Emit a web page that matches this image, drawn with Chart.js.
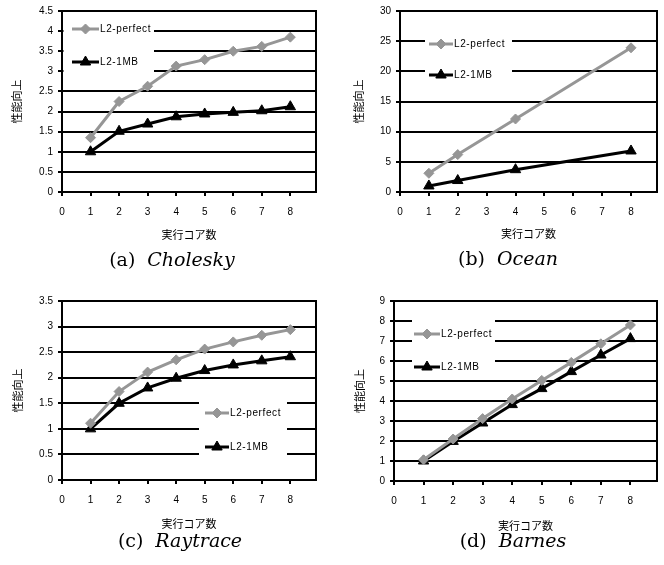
<!DOCTYPE html>
<html>
<head>
<meta charset="utf-8">
<script src="https://cdn.jsdelivr.net/npm/chart.js@4.4.1/dist/chart.umd.min.js"></script>
<style>
  body { margin: 0; background: #fff; width: 664px; height: 565px; position: relative; overflow: hidden; }
  canvas { position: absolute; }
  .cap { position: absolute; width: 332px; text-align: center; font-family: "DejaVu Serif", serif; font-size: 19px; line-height: 22px; color: #000; }
  .cap i { margin-left: 12px; }
</style>
</head>
<body>
<canvas id="cholesky" width="332" height="250" style="left:0;top:0"></canvas>
<canvas id="ocean" width="332" height="250" style="left:332px;top:0"></canvas>
<canvas id="raytrace" width="332" height="250" style="left:0;top:290px"></canvas>
<canvas id="barnes" width="332" height="250" style="left:332px;top:290px"></canvas>
<div class="cap" style="left:6px;top:248px">(a)<i>Cholesky</i></div>
<div class="cap" style="left:342px;top:247px">(b)<i>Ocean</i></div>
<div class="cap" style="left:14px;top:529px">(c)<i>Raytrace</i></div>
<div class="cap" style="left:347px;top:529px">(d)<i>Barnes</i></div>
<script>
// データ
const seriesNames = ['L2-perfect', 'L2-1MB'];
const xTitle = '実行コア数';
const yTitle = '性能向上';

const coresAll = [1, 2, 3, 4, 5, 6, 7, 8];
const coresOcean = [1, 2, 4, 8];

const choleskyPerfect = [1.35, 2.25, 2.63, 3.13, 3.29, 3.5, 3.62, 3.85];
const choleskyMB = [1.0, 1.51, 1.69, 1.87, 1.94, 1.98, 2.02, 2.12];

const oceanPerfect = [3.1, 6.2, 12.1, 23.9];
const oceanMB = [1.0, 1.9, 3.7, 6.8];

const raytracePerfect = [1.11, 1.73, 2.11, 2.35, 2.56, 2.7, 2.83, 2.94];
const raytraceMB = [1.0, 1.5, 1.8, 1.99, 2.14, 2.25, 2.33, 2.41];

const barnesPerfect = [1.06, 2.1, 3.12, 4.1, 5.03, 5.93, 6.86, 7.8];
const barnesMB = [1.0, 1.98, 2.9, 3.82, 4.62, 5.47, 6.3, 7.12];

Chart.defaults.font.family = '"Liberation Sans", Arial, sans-serif';
Chart.defaults.font.size = 10;
Chart.defaults.color = '#000';

const GRAY = '#969696';

// 凡例をプロット内に白い箱つきで描く
const boxLegend = {
  id: 'boxLegend',
  afterDatasetsDraw(chart, args, opts) {
    const ctx = chart.ctx;
    const a = chart.chartArea;
    ctx.save();
    ctx.fillStyle = '#fff';
    ctx.fillRect(a.left + opts.box[0], a.top + opts.box[1], opts.box[2] - opts.box[0], opts.box[3] - opts.box[1]);
    chart.data.datasets.forEach((ds, i) => {
      const y = a.top + opts.rows[i];
      const x0 = a.left + opts.line[0];
      const x1 = a.left + opts.line[1];
      ctx.strokeStyle = ds.borderColor;
      ctx.lineWidth = ds.borderWidth;
      ctx.beginPath();
      ctx.moveTo(x0, y);
      ctx.lineTo(x1, y);
      ctx.stroke();
      ctx.fillStyle = ds.pointBackgroundColor;
      ctx.strokeStyle = ds.pointBorderColor;
      ctx.lineWidth = 1;
      Chart.helpers.drawPoint(ctx, {pointStyle: ds.pointStyle, radius: ds.pointRadius, borderWidth: 1, rotation: 0}, (x0 + x1) / 2, y);
      ctx.fillStyle = '#000';
      ctx.font = '10px "Liberation Sans", Arial, sans-serif';
      ctx.letterSpacing = '0.6px';
      ctx.textBaseline = 'middle';
      ctx.textAlign = 'left';
      ctx.fillText(ds.label, x1 + 1, y + 0.5);
    });
    ctx.restore();
  }
};

// プロットエリアの右枠
const plotFrame = {
  id: 'plotFrame',
  beforeDatasetsDraw(chart) {
    const ctx = chart.ctx;
    const a = chart.chartArea;
    ctx.save();
    ctx.strokeStyle = '#000';
    ctx.lineWidth = 2;
    ctx.beginPath();
    ctx.moveTo(a.right, a.top - 1);
    ctx.lineTo(a.right, a.bottom);
    ctx.stroke();
    ctx.restore();
  }
};

function makeChart(id, xs, perfect, mb, yMax, yStep, g, legendPos) {
  const ctx = document.getElementById(id).getContext('2d');
  return new Chart(ctx, {
    type: 'line',
    data: {
      datasets: [
        {
          label: seriesNames[0],
          data: xs.map((x, i) => ({x: x, y: perfect[i]})),
          borderColor: GRAY,
          borderWidth: 3,
          pointStyle: 'rectRot',
          pointRadius: 5,
          pointBackgroundColor: GRAY,
          pointBorderColor: GRAY,
          pointBorderWidth: 1,
          tension: 0
        },
        {
          label: seriesNames[1],
          data: xs.map((x, i) => ({x: x, y: mb[i]})),
          borderColor: '#000',
          borderWidth: 3,
          pointStyle: 'triangle',
          pointRadius: 6,
          pointBackgroundColor: '#000',
          pointBorderColor: '#000',
          pointBorderWidth: 1,
          tension: 0
        }
      ]
    },
    options: {
      responsive: false,
      animation: false,
      devicePixelRatio: 1,
      layout: {padding: {left: 0, top: g.top, right: g.right, bottom: 0}},
      scales: {
        x: {
          type: 'linear',
          min: 0,
          max: 8.9,
          ticks: {stepSize: 1, includeBounds: false, padding: 10, maxRotation: 0},
          grid: {drawOnChartArea: false, drawTicks: true, tickLength: 4, color: '#000', lineWidth: 2},
          border: {color: '#000', width: 2},
          title: {display: true, text: xTitle, font: {family: '"Noto Sans CJK JP", sans-serif', size: 11}, padding: {top: 0, bottom: g.xtp}},
          afterFit: s => { s.height = g.xh; }
        },
        y: {
          min: 0,
          max: yMax,
          ticks: {stepSize: yStep, padding: 5, callback: v => String(Math.round(v * 100) / 100)},
          grid: {color: '#000', lineWidth: 2, drawTicks: true, tickLength: 4},
          border: {color: '#000', width: 2},
          title: {display: true, text: yTitle, font: {family: '"Noto Sans CJK JP", sans-serif', size: 11}, padding: {top: g.ytp, bottom: 0}},
          afterFit: s => { s.width = g.yw; }
        }
      },
      plugins: {
        legend: {display: false},
        tooltip: {enabled: false},
        boxLegend: legendPos
      }
    },
    plugins: [plotFrame, boxLegend]
  });
}

makeChart('cholesky', coresAll, choleskyPerfect, choleskyMB, 4.5, 0.5,
  {yw: 62, top: 8, right: 16, xh: 58, ytp: 10, xtp: 9},
  {box: [1.5, 10, 92, 66], rows: [18, 51], line: [10, 37]});

makeChart('ocean', coresOcean, oceanPerfect, oceanMB, 30, 5,
  {yw: 68, top: 8, right: 7, xh: 58, ytp: 20, xtp: 10},
  {box: [25, 22, 112, 72], rows: [33, 64], line: [29, 53]});

makeChart('raytrace', coresAll, raytracePerfect, raytraceMB, 3.5, 0.5,
  {yw: 62, top: 8, right: 16, xh: 60, ytp: 11, xtp: 10},
  {box: [137, 92, 225, 162], rows: [112, 146], line: [143, 167]});

makeChart('barnes', coresAll, barnesPerfect, barnesMB, 9, 1,
  {yw: 62, top: 6, right: 7, xh: 59, ytp: 21, xtp: 8},
  {box: [18, 12, 101, 72], rows: [33, 66], line: [20, 46]});
</script>
</body>
</html>
